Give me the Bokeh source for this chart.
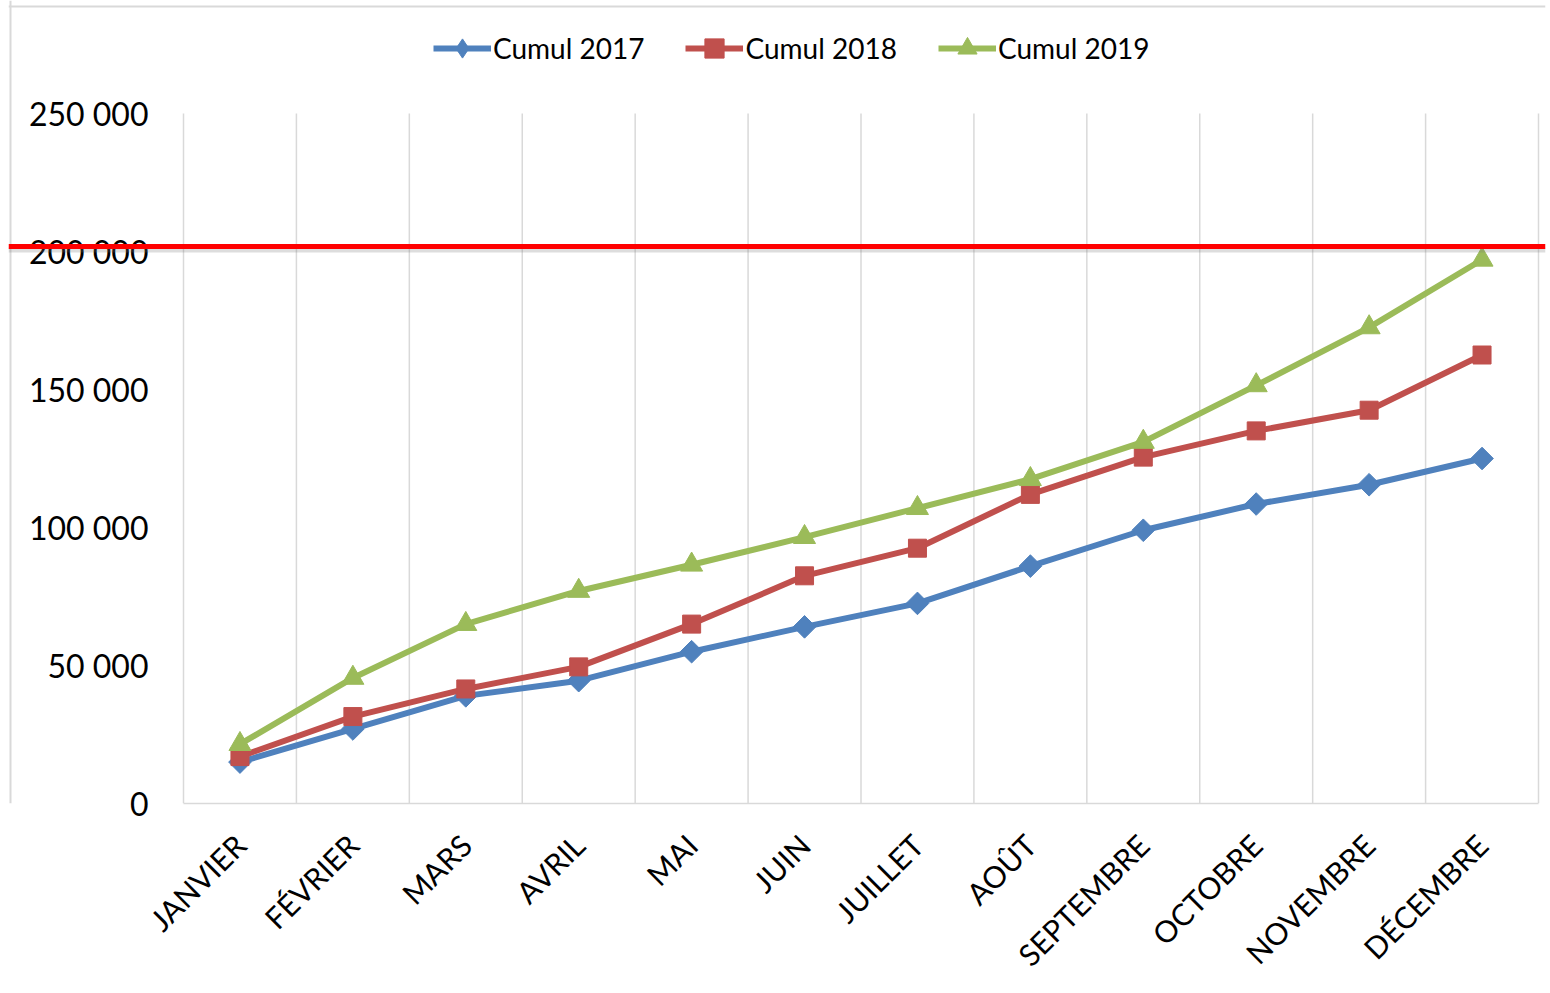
from math import pi
from bokeh.plotting import figure
from bokeh.models import FixedTicker, Span, Legend, LegendItem
from bokeh.embed import file_html
from bokeh.resources import INLINE

# ---- data ----
months = ["JANVIER", "FÉVRIER", "MARS", "AVRIL", "MAI", "JUIN",
          "JUILLET", "AOÛT", "SEPTEMBRE", "OCTOBRE", "NOVEMBRE", "DÉCEMBRE"]
cumul_2017 = [15000, 27000, 39000, 44500, 55000, 64000,
              72500, 86000, 99000, 108500, 115500, 125000]
cumul_2018 = [17000, 31500, 41500, 49500, 65000, 82500,
              92500, 112000, 125500, 135000, 142500, 162500]
cumul_2019 = [21500, 45500, 65000, 77000, 86500, 96500,
              107000, 117500, 131000, 151500, 172500, 197000]
series_names = ["Cumul 2017", "Cumul 2018", "Cumul 2019"]
y_ticks = [0, 50000, 100000, 150000, 200000, 250000]
y_tick_labels = ["0", "50 000", "100 000", "150 000", "200 000", "250 000"]
limit_value = 201800

FONT = "Lato"
n = len(months)
x = [i + 0.5 for i in range(n)]
x_bounds = list(range(n + 1))
NAN = float("nan")

# ---- layout (pixels) ----
W, H = 1550, 993
FL, FR, FT, FB = 8, 1545, 0, 803          # frame edges on the canvas
PL, PR, PT = 183, 1538, 113                # plot-area edges (data 0..12, 0..250000)
ppx = (PR - PL) / n
ppy = (FB - PT) / y_ticks[-1]
x_start = -(PL - FL) / ppx
x_end = n + (FR - PR) / ppx
y_end = y_ticks[-1] + (PT - FT) / ppy

p = figure(width=W, height=H, x_range=(x_start, x_end), y_range=(0, y_end),
           output_backend="svg", toolbar_location=None,
           min_border_left=FL, min_border_right=W - FR,
           min_border_top=FT, min_border_bottom=H - FB)
p.outline_line_color = None
p.background_fill_color = "white"
p.border_fill_color = "white"
p.xgrid.visible = False
p.ygrid.visible = False

# light chart border
p.add_layout(Span(location=-(PL - 10) / ppx, dimension="height",
                  line_color="#D9D9D9", line_width=2))
p.add_layout(Span(location=y_end - 6 / ppy, dimension="width",
                  line_color="#D9D9D9", line_width=2))

# vertical grid lines at category boundaries, limited to the plot area
p.segment(x0=x_bounds, y0=[y_ticks[0]] * len(x_bounds), x1=x_bounds,
          y1=[y_ticks[-1]] * len(x_bounds), line_color="#D9D9D9", line_width=1.5)

colors = ["#4F81BD", "#C0504D", "#9BBB59"]
markers = ["square", "square", "triangle"]
angles = [pi / 4, 0, 0]
sizes = [16, 18, 22]
legend_markers = ["diamond", "square", "triangle"]
items = []
for ys, name, c, m, a, s, lm in zip([cumul_2017, cumul_2018, cumul_2019], series_names,
                                    colors, markers, angles, sizes, legend_markers):
    p.line(x, ys, line_color=c, line_width=6)
    p.scatter(x, ys, marker=m, angle=a, size=s, fill_color=c, line_color=c)
    # legend-only glyphs (a single NaN point, not drawn in the plot)
    ll = p.line([NAN], [NAN], line_color=c, line_width=6)
    ls = p.scatter([NAN], [NAN], marker=lm, fill_color=c, line_color=c)
    items.append(LegendItem(label=name, renderers=[ll, ls]))

legend = Legend(items=items, orientation="horizontal",
                location=(433 - FL, FB - 72),
                label_text_font=FONT, label_text_font_size="28px",
                label_text_color="black",
                glyph_width=58, glyph_height=48, label_standoff=2, spacing=41,
                padding=0, margin=0, border_line_color=None,
                background_fill_alpha=0)
p.add_layout(legend, "center")

# red limit line with soft shadow, across the whole chart width
p.add_layout(Span(location=limit_value - 3.5 / ppy, dimension="width",
                  line_color="#777777", line_alpha=0.25, line_width=5))
p.add_layout(Span(location=limit_value, dimension="width",
                  line_color="#FF0000", line_width=5))

# axes
p.xaxis.ticker = FixedTicker(ticks=x)
p.xaxis.bounds = (0, n)
p.xaxis.major_label_overrides = {xx: m for xx, m in zip(x, months)}
p.xaxis.major_label_orientation = pi / 4
p.xaxis.major_label_standoff = 30
p.xaxis.major_label_text_font = FONT
p.xaxis.major_label_text_font_size = "30px"
p.xaxis.major_label_text_color = "black"
p.xaxis.axis_line_color = "#D9D9D9"
p.xaxis.axis_line_width = 1.5
p.xaxis.major_tick_line_color = None
p.xaxis.minor_tick_line_color = None

p.yaxis.ticker = FixedTicker(ticks=y_ticks)
p.yaxis.major_label_overrides = {t: l for t, l in zip(y_ticks, y_tick_labels)}
p.yaxis.major_label_standoff = FL - 148
p.yaxis.major_label_text_font = FONT
p.yaxis.major_label_text_font_size = "32px"
p.yaxis.major_label_text_color = "black"
p.yaxis.axis_line_color = None
p.yaxis.major_tick_line_color = None
p.yaxis.minor_tick_line_color = None
p.yaxis.major_tick_in = 0
p.yaxis.major_tick_out = 0

open("out.html", "w").write(file_html(p, INLINE))
